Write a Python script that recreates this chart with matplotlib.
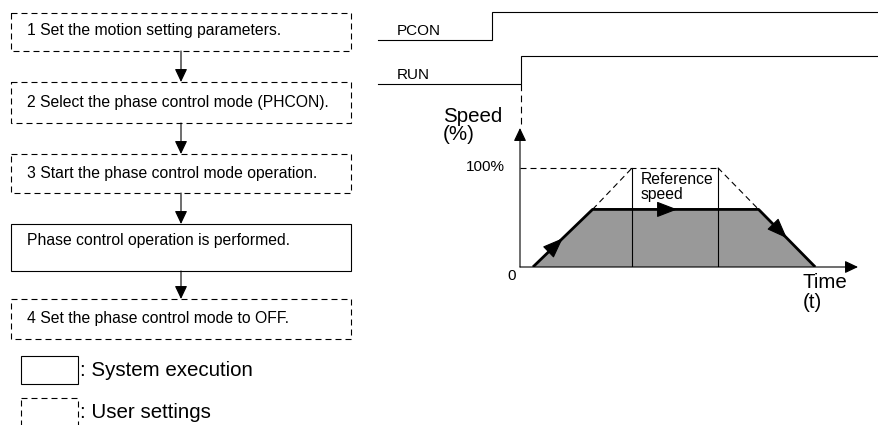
import matplotlib
matplotlib.use('Agg')
import matplotlib.pyplot as plt
from matplotlib.patches import Rectangle, Polygon

plt.rcParams['font.family'] = ['Liberation Sans', 'DejaVu Sans']

# flowchart steps
steps = ['1 Set the motion setting parameters.',
         '2 Select the phase control mode (PHCON).',
         '3 Start the phase control mode operation.',
         'Phase control operation is performed.',
         '4 Set the phase control mode to OFF.']
step_kind = ['user', 'user', 'user', 'system', 'user']
legend_text = {'system': ': System execution', 'user': ': User settings'}

# timing signals
signals = ['PCON', 'RUN']

# speed profile (time units, speed %)
prof_t = [1.3, 7.3, 24.0, 29.7]
prof_v = [0, 58, 58, 0]
ref_t = [7.3, 11.3, 19.9, 24.0]
ref_v = [58, 100, 100, 58]
ref_label = 'Reference\nspeed'

# layout (pixels)
W, H = 879, 425
box_x0, box_x1 = 11, 351
box_top = [13, 82, 154, 224, 299]
box_bot = [51, 123, 193, 271, 339]
text_y = [30, 102, 173, 240, 318]
sig_x0 = 378
sig_rise = [492, 521]
sig_low = [40, 84]
sig_high = [12, 56]

LW = 0.8
DASH = (0, (5.4, 3.6))
ink = 'black'
fs_box = 11.3
fs_big = 14.8

fig = plt.figure(figsize=(W / 100, H / 100), dpi=100)
ax = fig.add_axes([0, 0, 1, 1])
ax.set_xlim(0, W)
ax.set_ylim(H, 0)
ax.axis('off')

arr = dict(arrowstyle='-|>,head_length=0.8,head_width=0.38', color=ink,
           lw=LW, shrinkA=0, shrinkB=0, mutation_scale=10)

# ---- flowchart
xc = 181
for i, s in enumerate(steps):
    ls = DASH if step_kind[i] == 'user' else '-'
    ax.add_patch(Rectangle((box_x0, box_top[i]), box_x1 - box_x0,
                           box_bot[i] - box_top[i], fill=False, lw=LW, ls=ls, ec=ink))
    ax.text(27, text_y[i], s, fontsize=fs_box, va='center', ha='left')
    if i < len(steps) - 1:
        ax.annotate('', xy=(xc, box_top[i + 1]), xytext=(xc, box_bot[i]), arrowprops=arr)

# legend
for k, (kind, y0, h) in enumerate([('system', 356, 28), ('user', 398, 30)]):
    ls = DASH if kind == 'user' else '-'
    ax.add_patch(Rectangle((21, y0), 57, h, fill=False, lw=LW, ls=ls, ec=ink))
    ax.text(80, [371, 413][k], legend_text[kind], fontsize=fs_big, va='center', ha='left')

# ---- timing signals
for i, name in enumerate(signals):
    ax.plot([sig_x0, sig_rise[i], sig_rise[i], W], [sig_low[i], sig_low[i], sig_high[i], sig_high[i]],
            color=ink, lw=LW, solid_joinstyle='miter')
    ax.text(397, sig_low[i] - 9, name, fontsize=11, va='center', ha='left')

# dashed line from RUN edge down to speed axis
ax.plot([sig_rise[1], sig_rise[1]], [sig_low[1], 127], color=ink, lw=LW, ls=(0, (6, 4)))

# ---- speed profile
sp = fig.add_axes([520 / W, (H - 267) / H, (858 - 520) / W, (267 - 128) / H])
sp.set_xlim(0, 34)
sp.set_ylim(0, 140)
sp.axis('off')
sp.patch.set_alpha(0)

sp.add_patch(Polygon(list(zip(prof_t, prof_v)), closed=True, fc='#999999', ec='none'))
sp.plot(prof_t, prof_v, color=ink, lw=2.0, solid_capstyle='butt')
sp.plot([0, ref_t[2]], [100, 100], color=ink, lw=LW, ls=DASH)
sp.plot(ref_t[:2], ref_v[:2], color=ink, lw=LW, ls=DASH)
sp.plot(ref_t[2:], ref_v[2:], color=ink, lw=LW, ls=DASH)
for t in ref_t[1:3]:
    sp.plot([t, t], [0, 100], color=ink, lw=LW)

# axes with arrows
sp.annotate('', xy=(0, 140), xytext=(0, 0), arrowprops=arr, annotation_clip=False)
sp.annotate('', xy=(34, 0), xytext=(0, 0), arrowprops=arr, annotation_clip=False)

# direction arrows along the profile
big = dict(arr, arrowstyle='-|>,head_length=1.3,head_width=0.5')
def mid_arrow(t0, t1, f0, f1):
    v0 = prof_v[prof_t.index(t0)]
    v1 = prof_v[prof_t.index(t1)]
    a = (t0 + (t1 - t0) * f0, v0 + (v1 - v0) * f0)
    b = (t0 + (t1 - t0) * f1, v0 + (v1 - v0) * f1)
    sp.annotate('', xy=b, xytext=a, arrowprops=big)

mid_arrow(prof_t[0], prof_t[1], 0.2, 0.5)
mid_arrow(prof_t[1], prof_t[2], 0.2, 0.51)
mid_arrow(prof_t[2], prof_t[3], 0.2, 0.5)

# labels
ax.text(443, 116, 'Speed', fontsize=fs_big, va='center', ha='left')
ax.text(443, 135, '(%)', fontsize=fs_big, va='center', ha='left')
ax.text(505, 167, '100%', fontsize=11, va='center', ha='right')
ax.text(512, 276, '0', fontsize=11, va='center', ha='center')
ax.text(803, 283, 'Time', fontsize=fs_big, va='center', ha='left')
ax.text(803, 302, '(t)', fontsize=fs_big, va='center', ha='left')
ax.text(641, 187, ref_label, fontsize=11.3, va='center', ha='left', linespacing=0.95)
ax.text(638, 240, 'Position', fontsize=fs_big + 0.4, va='center', ha='left')

fig.savefig('out.png', dpi=100)
